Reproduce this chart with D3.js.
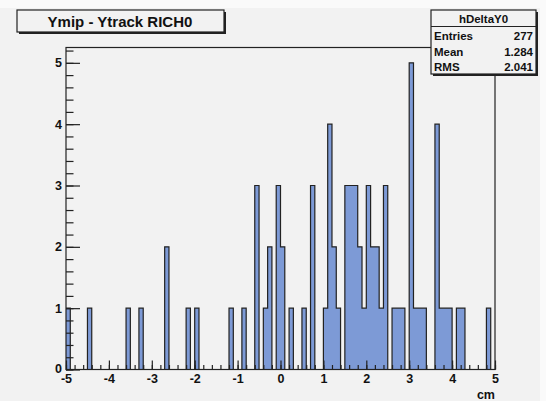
<!DOCTYPE html>
<html>
<head>
<meta charset="utf-8">
<script src="https://cdn.jsdelivr.net/npm/d3@7"></script>
<style>
  body { margin: 0; background: #ffffff; }
  svg text { font-family: "Liberation Sans", Arial, sans-serif; font-weight: bold; fill: #111; }
</style>
</head>
<body>
<script>
const width = 546;
const height = 401;

// histogram hDeltaY0: 100 bins from -5 to 5 cm
const xRange = [-5, 5];
const counts = [
  1, 0, 0, 0, 0, 1, 0, 0, 0, 0,
  0, 0, 0, 0, 1, 0, 0, 1, 0, 0,
  0, 0, 0, 2, 0, 0, 0, 0, 1, 0,
  1, 0, 0, 0, 0, 0, 0, 0, 1, 0,
  0, 1, 0, 0, 3, 0, 1, 2, 0, 3,
  2, 0, 1, 0, 0, 1, 0, 3, 0, 0,
  1, 4, 2, 1, 0, 3, 3, 3, 2, 1,
  3, 2, 2, 1, 3, 0, 1, 1, 1, 0,
  5, 1, 1, 1, 0, 0, 4, 1, 1, 1,
  0, 1, 1, 0, 0, 0, 0, 0, 1, 0
];
const xTicks = [-5, -4, -3, -2, -1, 0, 1, 2, 3, 4, 5];
const yTicks = [0, 1, 2, 3, 4, 5];
const titleText = "Ymip - Ytrack RICH0";
const xTitle = "cm";
const statsName = "hDeltaY0";
const statsLabels = ["Entries", "Mean", "RMS"];
const statsValues = ["277", "1.284", "2.041"];

const bg = "#f2f2f2";
const ink = "#222";
const barFill = "#7d9ad6";

const frame = { left: 66, right: 495, top: 47.5, bottom: 369.5 };

const svg = d3.select("body").append("svg")
  .attr("width", width)
  .attr("height", height);

// canvas
svg.append("rect").attr("x", 0).attr("y", 0).attr("width", width).attr("height", height).attr("fill", "#fafafa");
svg.append("rect").attr("x", 0).attr("y", 8).attr("width", 540).attr("height", height - 8).attr("fill", bg);

const x = d3.scaleLinear().domain(xRange).range([frame.left, frame.right]);
const y = d3.scaleLinear().domain([0, 5.25]).range([frame.bottom, frame.top]);

// histogram as step contour
const binW = (xRange[1] - xRange[0]) / counts.length;
const steps = counts.map((c, i) => ({ x: xRange[0] + i * binW, y: c }));
steps.push({ x: xRange[1], y: counts[counts.length - 1] });

const area = d3.area()
  .curve(d3.curveStepAfter)
  .x(d => x(d.x))
  .y0(y(0))
  .y1(d => y(d.y));

const line = d3.line()
  .curve(d3.curveStepAfter)
  .x(d => x(d.x))
  .y(d => y(d.y));

svg.append("path")
  .datum(steps)
  .attr("d", area)
  .attr("fill", barFill);

svg.append("path")
  .datum(steps)
  .attr("d", line)
  .attr("fill", "none")
  .attr("stroke", ink)
  .attr("stroke-width", 1.2);

// frame
svg.append("rect")
  .attr("x", frame.left).attr("y", frame.top)
  .attr("width", frame.right - frame.left).attr("height", frame.bottom - frame.top)
  .attr("fill", "none").attr("stroke", ink).attr("stroke-width", 1.2);

const plainNum = d => String(d);

// x axis: major + minor ticks pointing into the frame
const xMinor = d3.range(-5, 5.001, 0.2).map(v => +v.toFixed(1));
svg.append("g")
  .attr("transform", `translate(0,${frame.bottom})`)
  .call(d3.axisBottom(x).tickValues(xMinor).tickSize(-4.5).tickFormat(""))
  .call(g => g.select(".domain").remove());

svg.append("g")
  .attr("class", "xAxis")
  .attr("transform", `translate(0,${frame.bottom})`)
  .call(d3.axisBottom(x).tickValues(xTicks).tickSize(-9).tickPadding(5).tickFormat(plainNum))
  .call(g => g.select(".domain").remove());

// y axis
const yMinor = d3.range(0, 5.25, 0.2).map(v => +v.toFixed(1));
svg.append("g")
  .attr("transform", `translate(${frame.left},0)`)
  .call(d3.axisLeft(y).tickValues(yMinor).tickSize(-7.5).tickFormat(""))
  .call(g => g.select(".domain").remove());

svg.append("g")
  .attr("class", "yAxis")
  .attr("transform", `translate(${frame.left},0)`)
  .call(d3.axisLeft(y).tickValues(yTicks).tickSize(-14).tickPadding(4).tickFormat(plainNum))
  .call(g => g.select(".domain").remove());

svg.selectAll(".tick line").attr("stroke", ink).attr("stroke-width", 1.2);
svg.selectAll(".xAxis text, .yAxis text")
  .style("font-size", "12.5px")
  .style("font-family", "'Liberation Sans', Arial, sans-serif")
  .style("font-weight", "bold")
  .attr("fill", "#111");
// keep the y "0" clear of the x "-5"
svg.selectAll(".yAxis .tick text").filter(d => d === 0).attr("dy", "0.2em");

// x title
svg.append("text")
  .attr("x", frame.right).attr("y", 398.5)
  .attr("text-anchor", "end")
  .style("font-size", "12.5px")
  .text(xTitle);

// title box with shadow
const drawBox = (x0, y0, w, h) => {
  svg.append("rect").attr("x", x0 + 2).attr("y", y0 + 2).attr("width", w).attr("height", h).attr("fill", ink);
  svg.append("rect").attr("x", x0).attr("y", y0).attr("width", w).attr("height", h)
    .attr("fill", bg).attr("stroke", ink).attr("stroke-width", 1.2);
};

drawBox(17, 10, 207, 22);
svg.append("text")
  .attr("x", 120).attr("y", 26.5)
  .attr("text-anchor", "middle")
  .style("font-size", "15px")
  .text(titleText);

// stats box
const sb = { x: 431, y: 10, w: 105, h: 64 };
drawBox(sb.x, sb.y, sb.w, sb.h);
svg.append("line")
  .attr("x1", sb.x).attr("x2", sb.x + sb.w)
  .attr("y1", 26.5).attr("y2", 26.5)
  .attr("stroke", ink).attr("stroke-width", 1.2);
svg.append("text")
  .attr("x", sb.x + sb.w / 2).attr("y", 22.5)
  .attr("text-anchor", "middle")
  .style("font-size", "11.5px")
  .text(statsName);

statsLabels.forEach((lab, i) => {
  const yy = 40 + i * 15.5;
  svg.append("text").attr("x", sb.x + 3).attr("y", yy)
    .style("font-size", "11.5px").text(lab);
  svg.append("text").attr("x", sb.x + sb.w - 3).attr("y", yy)
    .attr("text-anchor", "end")
    .style("font-size", "11.5px").text(statsValues[i]);
});
</script>
</body>
</html>
